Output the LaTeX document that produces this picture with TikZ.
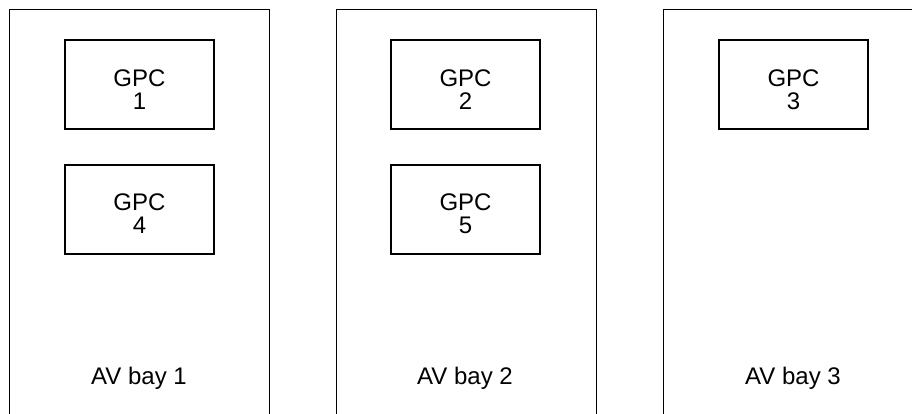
\documentclass[tikz,border=0pt]{standalone}
\usepackage{fontspec}
\setmainfont{Liberation Sans}
\begin{document}
\begin{tikzpicture}[x=1pt,y=-1pt,
  bay/.style={draw, line width=1.2pt, minimum width=260pt, minimum height=430pt, inner sep=0pt, anchor=north west},
  gpc/.style={draw, line width=1.2pt, minimum width=149pt, minimum height=89pt, inner sep=0pt},
  gpctext/.style={inner sep=0pt, align=center, font=\fontsize{24pt}{22.5pt}\selectfont},
  baylabel/.style={anchor=base, inner sep=0pt, font=\fontsize{24pt}{22.5pt}\selectfont}]
\useasboundingbox (0,0) rectangle (912,413);
\clip (0,0) rectangle (912,413);
\node[bay] (bay1) at (9,9) {};
\node[bay] (bay2) at (336,9) {};
\node[bay] (bay3) at (663,9) {};
\node[gpc] (g1) at (139.5,84.5) {};
\node[gpc] (g4) at (139.5,209.5) {};
\node[gpc] (g2) at (465.5,84.5) {};
\node[gpc] (g5) at (465.5,209.5) {};
\node[gpc] (g3) at (793.5,84.5) {};
\node[gpctext] (t1) at (139.5,89.5) {GPC\\1};
\node[gpctext] (t4) at (139.5,213.5) {GPC\\4};
\node[gpctext] (t2) at (465.5,89.5) {GPC\\2};
\node[gpctext] (t5) at (465.5,213.5) {GPC\\5};
\node[gpctext] (t3) at (793.5,89.5) {GPC\\3};
\node[baylabel] (l1) at (139,384) {AV bay 1};
\node[baylabel] (l2) at (465,384) {AV bay 2};
\node[baylabel] (l3) at (793,384) {AV bay 3};
\end{tikzpicture}
\end{document}
